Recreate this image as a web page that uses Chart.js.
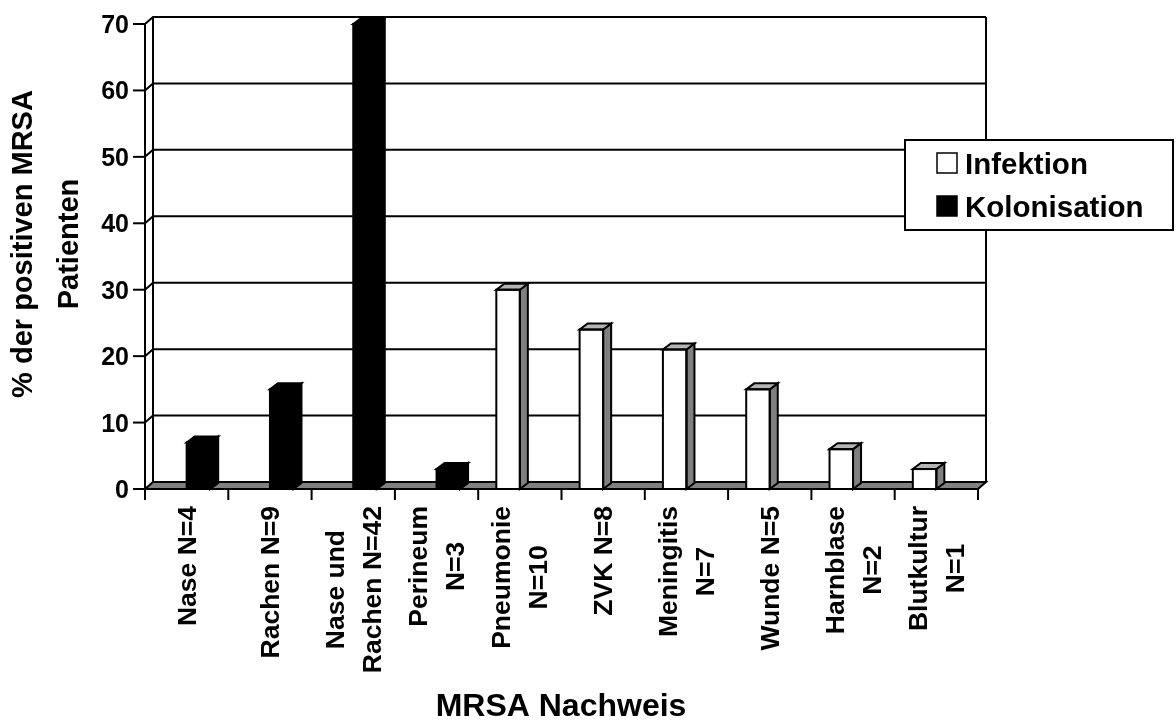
<!DOCTYPE html>
<html>
<head>
<meta charset="utf-8">
<script src="https://cdn.jsdelivr.net/npm/chart.js@4/dist/chart.umd.min.js"></script>
<style>
  html, body { margin: 0; padding: 0; background: #ffffff; }
  #wrap { width: 1176px; height: 720px; }
</style>
</head>
<body>
<div id="wrap"><canvas id="c" width="1176" height="720"></canvas></div>
<script>
// Categories (each entry = wrapped label lines)
const categories = [
  ['Nase N=4'], ['Rachen N=9'], ['Nase und', 'Rachen N=42'], ['Perineum', 'N=3'],
  ['Pneumonie', 'N=10'], ['ZVK N=8'], ['Meningitis', 'N=7'], ['Wunde N=5'],
  ['Harnblase', 'N=2'], ['Blutkultur', 'N=1']
];
// % der positiven MRSA Patienten
const infektion    = [null, null, null, null, 30, 24, 21, 15, 6, 3];
const kolonisation = [7, 15, 70, 3, null, null, null, null, null, null];
const yTicks = [0, 10, 20, 30, 40, 50, 60, 70];
const seriesNames = ['Infektion', 'Kolonisation'];
const yTitle = ['% der positiven MRSA', 'Patienten'];
const xTitle = 'MRSA Nachweis';

const FONT = '"Liberation Sans", Arial, Helvetica, sans-serif';
const WALL_DX = 8, WALL_DY = 7;   // depth of the back wall / floor
const BAR_DX = 8, BAR_DY = 6;     // depth of each column

function line(ctx, pts) {
  ctx.beginPath();
  ctx.moveTo(pts[0][0], pts[0][1]);
  for (let i = 1; i < pts.length; i++) ctx.lineTo(pts[i][0], pts[i][1]);
  ctx.stroke();
}
function poly(ctx, pts, fill) {
  ctx.beginPath();
  ctx.moveTo(pts[0][0], pts[0][1]);
  for (let i = 1; i < pts.length; i++) ctx.lineTo(pts[i][0], pts[i][1]);
  ctx.closePath();
  ctx.fillStyle = fill;
  ctx.fill();
  ctx.stroke();
}

const frame3d = {
  id: 'frame3d',
  beforeDatasetsDraw(chart) {
    const { ctx, chartArea: a, scales: { x, y } } = chart;
    ctx.save();
    ctx.strokeStyle = '#000';
    ctx.lineWidth = 2;
    ctx.lineJoin = 'miter';
    // gridlines on the back wall, joined to the front axis across the side wall
    yTicks.forEach(v => {
      if (v === 0) return;
      const py = y.getPixelForValue(v);
      line(ctx, [[a.left, py], [a.left + WALL_DX, py - WALL_DY], [a.right + WALL_DX, py - WALL_DY]]);
    });
    const top = y.getPixelForValue(yTicks[yTicks.length - 1]);
    const base = y.getPixelForValue(0);
    // side wall edges and right edge of the back wall
    line(ctx, [[a.left + WALL_DX, top - WALL_DY], [a.left + WALL_DX, base - WALL_DY]]);
    line(ctx, [[a.right + WALL_DX, top - WALL_DY], [a.right + WALL_DX, base - WALL_DY]]);
    // floor
    poly(ctx, [[a.left, base], [a.right, base], [a.right + WALL_DX, base - WALL_DY], [a.left + WALL_DX, base - WALL_DY]], '#808080');
    // front value axis with tick marks
    line(ctx, [[a.left, top], [a.left, base]]);
    yTicks.forEach(v => {
      const py = y.getPixelForValue(v);
      line(ctx, [[a.left - 12, py], [a.left, py]]);
    });
    // category tick marks at the boundaries
    for (let i = 0; i <= categories.length; i++) {
      const px = x.getPixelForValue(i - 0.5);
      line(ctx, [[px, base], [px, base + 11]]);
    }
    // value labels
    ctx.fillStyle = '#000';
    ctx.font = 'bold 25px ' + FONT;
    ctx.textAlign = 'right';
    ctx.textBaseline = 'alphabetic';
    yTicks.forEach(v => {
      const py = y.getPixelForValue(v);
      ctx.fillText(String(v), a.left - 16, py + 9);
    });
    ctx.restore();
  },
  afterDatasetsDraw(chart) {
    const { ctx } = chart;
    ctx.save();
    ctx.strokeStyle = '#000';
    ctx.lineWidth = 2;
    ctx.lineJoin = 'miter';
    chart.data.datasets.forEach((ds, di) => {
      const meta = chart.getDatasetMeta(di);
      meta.data.forEach((el, i) => {
        if (ds.data[i] === null || ds.data[i] === undefined) return;
        const l = el.x - el.width / 2, r = el.x + el.width / 2;
        const t = el.y, b = el.base;
        const side = ds.sideColor, cap = ds.topColor;
        poly(ctx, [[r, t], [r + BAR_DX, t - BAR_DY], [r + BAR_DX, b - BAR_DY], [r, b]], side);
        poly(ctx, [[l, t], [l + BAR_DX, t - BAR_DY], [r + BAR_DX, t - BAR_DY], [r, t]], cap);
        // front face outline
        ctx.strokeRect(l, t, r - l, b - t);
      });
    });
    ctx.restore();
  },
  afterDraw(chart) {
    const { ctx, chartArea: a, scales: { x } } = chart;
    ctx.save();
    ctx.fillStyle = '#000';
    ctx.textBaseline = 'alphabetic';

    // rotated category labels, lines centred on each other
    const fs = 26.5;
    ctx.font = 'bold ' + fs + 'px ' + FONT;
    ctx.textAlign = 'center';
    const labelTop = a.bottom + 17;
    const lineGap = 37;
    categories.forEach((lines, i) => {
      const cx = x.getPixelForValue(i);
      const maxW = Math.max(...lines.map(s => ctx.measureText(s).width));
      const cy = labelTop + maxW / 2;
      lines.forEach((s, j) => {
        const lx = cx + (j - (lines.length - 1) / 2) * lineGap + 9;
        ctx.save();
        ctx.translate(lx, cy);
        ctx.rotate(-Math.PI / 2);
        ctx.fillText(s, 0, 0);
        ctx.restore();
      });
    });

    // value axis title
    ctx.font = 'bold 29px ' + FONT;
    [32, 78].forEach((bx, j) => {
      ctx.save();
      ctx.translate(bx, 244);
      ctx.rotate(-Math.PI / 2);
      ctx.fillText(yTitle[j], 0, 0);
      ctx.restore();
    });

    // category axis title
    ctx.font = 'bold 32px ' + FONT;
    ctx.fillText(xTitle, 561, 716);

    // legend
    ctx.lineWidth = 2;
    ctx.strokeStyle = '#000';
    ctx.fillStyle = '#fff';
    ctx.fillRect(905, 140, 268, 90);
    ctx.strokeRect(905, 140, 268, 90);
    ctx.font = 'bold 29.5px ' + FONT;
    ctx.textAlign = 'left';
    chart.data.datasets.forEach((ds, di) => {
      const sy = 153 + di * 43;
      ctx.fillStyle = ds.backgroundColor;
      ctx.lineWidth = 1.5;
      ctx.fillRect(937, sy, 20, 20);
      ctx.strokeRect(937, sy, 20, 20);
      ctx.fillStyle = '#000';
      ctx.fillText(ds.label, 965, sy + 20.5);
    });
    ctx.restore();
  }
};

new Chart(document.getElementById('c'), {
  type: 'bar',
  data: {
    labels: categories,
    datasets: [
      { label: seriesNames[0], data: infektion, backgroundColor: '#ffffff', sideColor: '#808080', topColor: '#b4b4b4',
        borderWidth: 0, categoryPercentage: 0.565, barPercentage: 1.0 },
      { label: seriesNames[1], data: kolonisation, backgroundColor: '#000000', sideColor: '#000000', topColor: '#000000',
        borderWidth: 0, categoryPercentage: 0.565, barPercentage: 1.0 }
    ]
  },
  options: {
    responsive: false,
    animation: false,
    events: [],
    layout: { padding: { left: 145, top: 24, right: 198, bottom: 231 } },
    plugins: { legend: { display: false }, tooltip: { enabled: false }, title: { display: false } },
    scales: {
      x: { display: false },
      y: { display: false, min: 0, max: 70 }
    }
  },
  plugins: [frame3d]
});
</script>
</body>
</html>
